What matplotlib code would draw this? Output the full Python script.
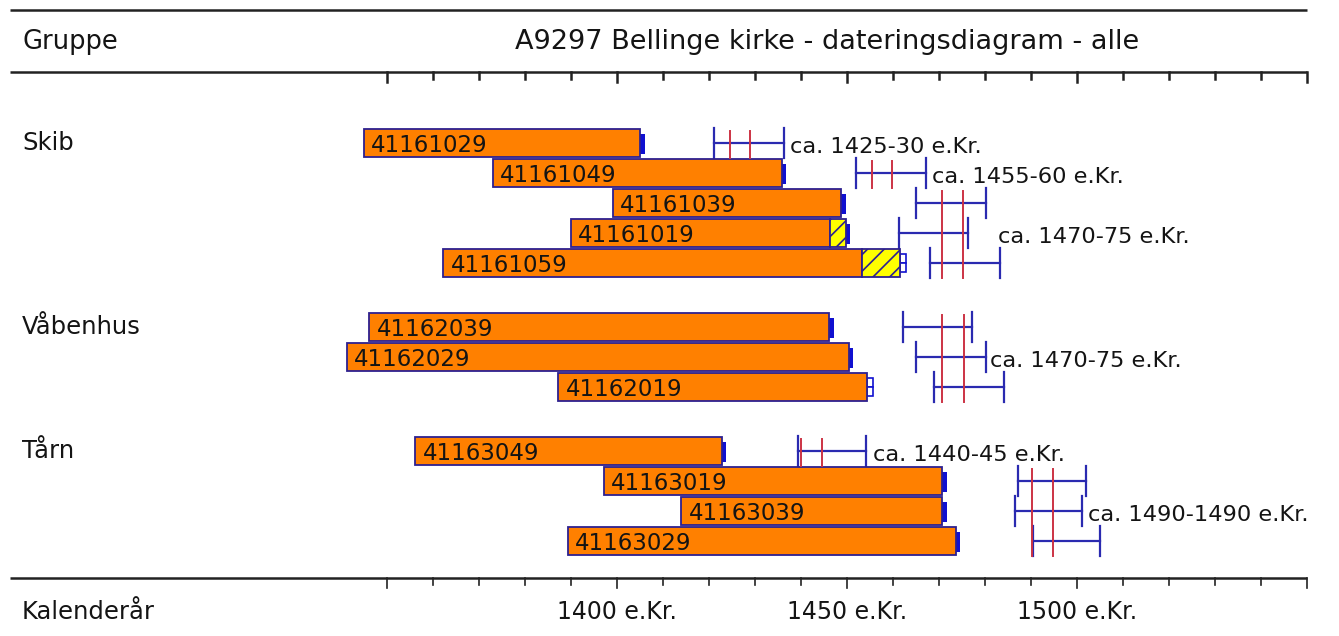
import numpy as np
import matplotlib
matplotlib.use("Agg")
import matplotlib.pyplot as plt
from matplotlib.transforms import blended_transform_factory

# --- data (years) ---
groups = ["Skib", "Våbenhus", "Tårn"]

sample_ids = [
    ["41161029", "41161049", "41161039", "41161019", "41161059"],
    ["41162039", "41162029", "41162019"],
    ["41163049", "41163019", "41163039", "41163029"],
]
first_ring = [
    [1345.0, 1373.0, 1399.1, 1390.0, 1362.2],
    [1346.1, 1341.3, 1387.2],
    [1356.1, 1397.1, 1414.0, 1389.3],
]
heartwood_end = [
    [1405.0, 1435.8, 1448.8, 1446.3, 1453.3],
    [1446.1, 1450.4, 1454.3],
    [1422.8, 1470.7, 1470.7, 1473.6],
]
# sapwood (hatched) end, None when no sapwood present
sapwood_end = [
    [None, None, None, 1449.7, 1461.5],
    [None, None, None],
    [None, None, None, None],
]
# end marker: 'b' = solid blue block, 'o' = open box
end_marker = [
    ["b", "b", "b", "b", "o"],
    ["b", "b", "o"],
    ["b", "b", "b", "b"],
]
felling_lo = [
    [1421.1, 1451.9, 1465.0, 1461.2, 1468.0],
    [1462.2, 1464.9, 1469.0],
    [1439.4, 1487.2, 1486.5, 1490.5],
]
felling_hi = [
    [1436.2, 1467.2, 1480.2, 1476.4, 1483.3],
    [1477.2, 1480.2, 1484.1],
    [1454.1, 1502.0, 1501.1, 1505.0],
]

# combined datings: (group, first row, last row)
cluster_group = [0, 0, 0, 1, 2, 2]
cluster_rows = [(0, 0), (1, 1), (2, 4), (0, 2), (0, 0), (1, 3)]
cluster_red = [(1424.6, 1428.9), (1455.4, 1459.8), (1470.7, 1475.2),
               (1470.7, 1475.4), (1440.0, 1444.5), (1490.2, 1494.7)]
cluster_text = ["ca. 1425-30 e.Kr.", "ca. 1455-60 e.Kr.", "ca. 1470-75 e.Kr.",
                "ca. 1470-75 e.Kr.", "ca. 1440-45 e.Kr.", "ca. 1490-1490 e.Kr."]
cluster_text_x = [1437.6, 1468.5, 1482.8, 1481.1, 1455.7, 1502.4]

axis_labels = [1400, 1450, 1500]

# --- layout ---
W, H = 1339, 636
px_per_year = 4.6
x0_px, yr0 = 617, 1400
xmin = yr0 - x0_px / px_per_year
xmax = yr0 + (W - x0_px) / px_per_year

fig = plt.figure(figsize=(W / 100, H / 100), dpi=100)
ax = fig.add_axes([0, 0, 1, 1])
ax.set_xlim(xmin, xmax)
ax.set_ylim(H, 0)
ax.axis("off")
tr = blended_transform_factory(ax.transAxes, ax.transData)

plt.rcParams["font.family"] = ["DejaVu Sans"]
plt.rcParams["hatch.linewidth"] = 1.2
txt_col = "#141414"
orange = "#ff8000"
edge = "#2d2090"
blue = "#1010d0"
brk = "#2a2ab0"
red = "#cc3344"
hatch_col = "#ffff00"

# header and footer rules
line_l, line_r = 10 / W, 1307 / W
for yy in [10, 72, 578]:
    ax.plot([line_l, line_r], [yy, yy], transform=tr, color="#222222", lw=1.8,
            solid_capstyle="butt")

ticks = np.arange(1350, 1551, 10)
for t in ticks:
    major = (t % 50 == 0)
    ax.plot([t, t], [72, 72 + (10 if major else 7)], color="#222222", lw=1.8)
    ax.plot([t, t], [578, 578 + (10 if major else 7)], color="#222222", lw=1.2)

ax.text(22 / W, 42, "Gruppe", transform=tr, fontsize=18.5, va="center", color=txt_col)
ax.text(827 / W, 42, "A9297 Bellinge kirke - dateringsdiagram - alle", transform=tr,
        fontsize=19.5, va="center", ha="center", color=txt_col)
ax.text(22 / W, 612, "Kalenderår", transform=tr, fontsize=17.5, va="center", color=txt_col)
for lab in axis_labels:
    ax.text(lab, 612, f"{lab} e.Kr.", fontsize=17, va="center", ha="center", color=txt_col)

# row positions
row_step, group_gap = 30, 34
row_y = []
y = 143
for g in range(len(groups)):
    ys = []
    for i in range(len(sample_ids[g])):
        ys.append(y)
        y += row_step
    row_y.append(ys)
    y += group_gap

bar_h = 28
for g, name in enumerate(groups):
    ax.text(22 / W, row_y[g][0], name, transform=tr, fontsize=17.5, va="center", color=txt_col)
    for i, sid in enumerate(sample_ids[g]):
        yc = row_y[g][i]
        s, e = first_ring[g][i], heartwood_end[g][i]
        ax.barh(yc, e - s, left=s, height=bar_h, color=orange, edgecolor=edge, lw=1.3, zorder=2)
        end = e
        if sapwood_end[g][i] is not None:
            se = sapwood_end[g][i]
            ax.barh(yc, se - e, left=e, height=bar_h, color=hatch_col, edgecolor=edge,
                    lw=1.3, hatch="//", zorder=2)
            end = se
        if end_marker[g][i] == "b":
            ax.barh(yc + 1, 1.0, left=end, height=20, color=blue, lw=0, zorder=1)
        else:
            ax.barh(yc - 4.5, 1.3, left=end, height=9, color="white", edgecolor=blue, lw=1.2, zorder=1)
            ax.barh(yc + 4.5, 1.3, left=end, height=9, color="white", edgecolor=blue, lw=1.2, zorder=1)
        ax.text(s + 1.6, yc + 2, sid, fontsize=16.5, va="center", ha="left", color=txt_col, zorder=3)

        # felling date interval
        lo, hi = felling_lo[g][i], felling_hi[g][i]
        ax.plot([lo, hi], [yc, yc], color=brk, lw=1.6, zorder=2)
        ax.plot([lo, lo], [yc - 15, yc + 15], color=brk, lw=1.6, zorder=2)
        ax.plot([hi, hi], [yc - 15, yc + 15], color=brk, lw=1.6, zorder=2)

for c, g in enumerate(cluster_group):
    r0, r1 = cluster_rows[c]
    ytop, ybot = row_y[g][r0], row_y[g][r1]
    for rx in cluster_red[c]:
        ax.plot([rx, rx], [ytop - 12, ybot + 15], color=red, lw=1.4, zorder=3)
    ax.text(cluster_text_x[c], (ytop + ybot) / 2 + 4, cluster_text[c], fontsize=16.2,
            va="center", ha="left", color=txt_col)

fig.savefig("out.png", dpi=100)
